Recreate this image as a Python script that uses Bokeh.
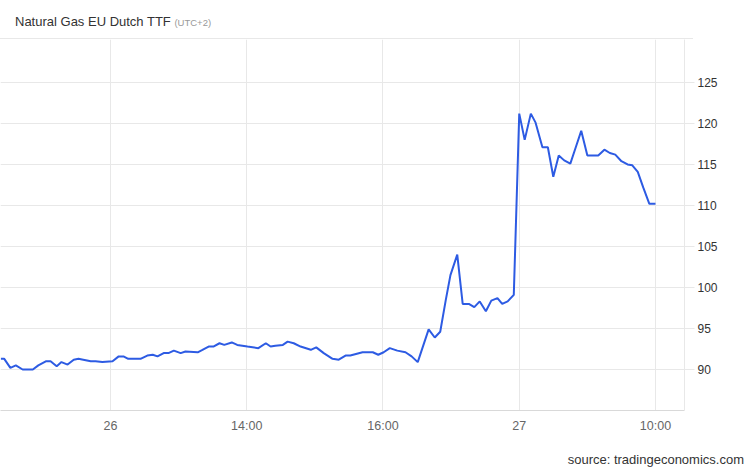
from bokeh.plotting import figure
from bokeh.models import Range1d, FixedTicker, Div
from bokeh.layouts import column
from bokeh.embed import file_html
from bokeh.resources import INLINE

# time axis in session hours (tick positions 12,14,16,18,20)
hours = [10.39, 10.44, 10.53, 10.61, 10.71, 10.86, 10.94, 11.05, 11.12, 11.21,
         11.28, 11.37, 11.46, 11.53, 11.60, 11.71, 11.78, 11.88, 12.03, 12.12,
         12.19, 12.26, 12.44, 12.54, 12.62, 12.69, 12.78, 12.85, 12.93, 13.03,
         13.10, 13.28, 13.35, 13.44, 13.51, 13.60, 13.67, 13.78, 13.86, 14.01,
         14.17, 14.28, 14.35, 14.42, 14.53, 14.60, 14.69, 14.79, 14.94, 15.02,
         15.13, 15.26, 15.35, 15.45, 15.52, 15.70, 15.85, 15.93, 16.01, 16.10,
         16.21, 16.33, 16.42, 16.51, 16.67, 16.76, 16.84, 16.92, 16.99, 17.09,
         17.17, 17.26, 17.34, 17.42, 17.51, 17.59, 17.68, 17.75, 17.83, 17.92,
         18.00, 18.08, 18.17, 18.24, 18.34, 18.42, 18.50, 18.58, 18.66, 18.75,
         18.83, 18.91, 19.00, 19.16, 19.25, 19.33, 19.41, 19.50, 19.59, 19.66,
         19.74, 19.82, 19.91, 20.00]
price = [91.3, 91.3, 90.2, 90.5, 90.0, 90.0, 90.5, 91.0, 91.0, 90.4,
         90.9, 90.6, 91.2, 91.3, 91.2, 91.0, 91.0, 90.9, 91.0, 91.6,
         91.6, 91.3, 91.3, 91.7, 91.8, 91.6, 92.0, 92.0, 92.3, 92.0,
         92.2, 92.1, 92.4, 92.8, 92.8, 93.2, 93.0, 93.3, 93.0, 92.8,
         92.6, 93.2, 92.8, 92.9, 93.0, 93.4, 93.2, 92.8, 92.4, 92.7,
         92.0, 91.3, 91.2, 91.7, 91.7, 92.1, 92.1, 91.8, 92.1, 92.6,
         92.3, 92.1, 91.6, 90.9, 94.9, 93.9, 94.6, 98.4, 101.5, 104.0,
         98.0, 98.0, 97.6, 98.3, 97.1, 98.4, 98.7, 98.0, 98.3, 99.1,
         121.2, 118.0, 121.2, 120.1, 117.1, 117.1, 113.5, 116.1, 115.5, 115.1,
         117.1, 119.1, 116.1, 116.1, 116.8, 116.4, 116.2, 115.4, 115.0, 114.9,
         114.1, 112.2, 110.2, 110.2]

x_ticks = [12, 14, 16, 18, 20]
x_labels = ["26", "14:00", "16:00", "27", "10:00"]
y_ticks = [90, 95, 100, 105, 110, 115, 120, 125]

title_text = "Natural Gas EU Dutch TTF"
tz_text = "(UTC+2)"
source_text = "source: tradingeconomics.com"

FONT = "Liberation Sans"
CSS_FONT = "font-family:'Liberation Sans',Arial,sans-serif;"
GRID = "#e8e8e8"

header_html = (
    '<div style="position:relative;width:746px;height:39px;">'
    '<div style="position:absolute;left:15px;top:15px;white-space:nowrap;'
    + CSS_FONT + 'font-size:13px;line-height:13px;color:#333333;">' + title_text +
    ' <span style="font-size:9.5px;color:#999999;">' + tz_text + '</span></div>'
    '<div style="position:absolute;left:0;top:38px;width:693px;height:1px;'
    'background:' + GRID + ';"></div></div>'
)
header = Div(text=header_html, width=746, height=39, margin=0)

footer_html = (
    '<div style="position:relative;width:746px;height:28px;">'
    '<div style="position:absolute;right:2px;top:13px;white-space:nowrap;'
    + CSS_FONT + 'font-size:13px;line-height:13px;color:#333333;">'
    + source_text + '</div></div>'
)
footer = Div(text=footer_html, width=746, height=28, margin=0)

p = figure(width=746, height=401, output_backend="svg", toolbar_location=None,
           title=None,
           x_range=Range1d(10.385, 20.426), y_range=Range1d(85, 130.24),
           y_axis_location="right", min_border_left=0, min_border_right=62,
           min_border_top=0, min_border_bottom=30, margin=0)
p.outline_line_color = None
p.background_fill_color = "white"
p.border_fill_color = "white"

# x axis
xa = p.xaxis[0]
xa.ticker = FixedTicker(ticks=x_ticks)
xa.major_label_overrides = {t: l for t, l in zip(x_ticks, x_labels)}
xa.axis_line_color = "#d9d9d9"
xa.major_tick_line_color = None
xa.major_tick_out = 0
xa.major_tick_in = 0
xa.minor_tick_line_color = None
xa.major_label_standoff = 8
xa.major_label_text_font = FONT
xa.major_label_text_font_size = "12.5px"
xa.major_label_text_color = "#666666"

# y axis (right)
ya = p.yaxis[0]
ya.ticker = FixedTicker(ticks=y_ticks)
ya.axis_line_color = GRID
ya.major_tick_line_color = GRID
ya.major_tick_out = 10
ya.major_tick_in = 0
ya.minor_tick_line_color = None
ya.major_label_standoff = 3
ya.major_label_text_font = FONT
ya.major_label_text_font_size = "12px"
ya.major_label_text_color = "#333333"

p.xgrid.ticker = FixedTicker(ticks=x_ticks)
p.ygrid.ticker = FixedTicker(ticks=y_ticks)
p.xgrid.grid_line_color = GRID
p.ygrid.grid_line_color = GRID

p.line(hours, price, line_color="#2d5be3", line_width=2)

layout = column(header, p, footer, spacing=0, margin=0)
open("out.html", "w").write(file_html(layout, INLINE))
